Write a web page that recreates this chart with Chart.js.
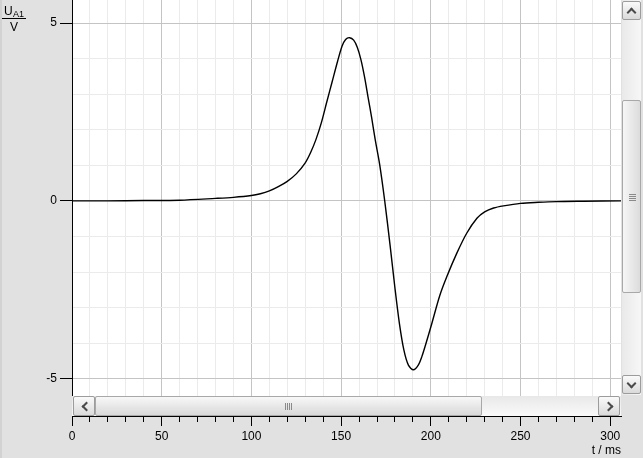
<!DOCTYPE html>
<html>
<head>
<meta charset="utf-8">
<script src="https://cdn.jsdelivr.net/npm/chart.js@4.4.1/dist/chart.umd.min.js"></script>
<style>
  html, body { margin: 0; padding: 0; background: #e1e1e1; }
  #wrap { position: relative; width: 643px; height: 458px; overflow: hidden;
          font-family: "Liberation Sans", Arial, sans-serif; color: #000; }
  #chart { position: absolute; left: 0; top: 0; }
  .abs { position: absolute; white-space: nowrap; }
  .track { position: absolute; box-sizing: border-box; }
  .btn { position: absolute; box-sizing: border-box; border: 1px solid #9c9c9c; border-radius: 2px;
         background: linear-gradient(#fafafa, #dadada); }
  .chev { position: absolute; width: 5px; height: 5px; border-left: 2px solid #4a4a4a; border-top: 2px solid #4a4a4a; }
  .thumb { position: absolute; box-sizing: border-box; border: 1px solid #a8a8a8; border-radius: 2px; }
  .grip { position: absolute; background: #8a8a8a; }
</style>
</head>
<body>
<div id="wrap">
  <canvas id="chart" width="643" height="458"></canvas>

  <!-- axis titles -->
  <span class="abs" style="left:4px; top:4.5px; font-size:12px; line-height:12px;">U</span>
  <span class="abs" style="left:13px; top:9.8px; font-size:9px; line-height:9px;">A1</span>
  <div class="abs" style="left:2px; top:18px; width:24px; height:1px; background:#000;"></div>
  <span class="abs" style="left:10px; top:20.5px; font-size:12px; line-height:12px;">V</span>
  <span class="abs" style="right:22px; top:443.5px; font-size:12px; line-height:12px;">t / ms</span>

  <!-- vertical scrollbar -->
  <div class="track" style="left:622px; top:0; width:19px; height:395px; background:linear-gradient(to right,#e9e9e9,#f7f7f7);"></div>
  <div class="btn" style="left:622px; top:1px; width:19px; height:19px;">
    <div class="chev" style="left:5px; top:7px; transform:rotate(45deg);"></div>
  </div>
  <div class="thumb" style="left:622px; top:100px; width:19px; height:193px; background:linear-gradient(to right,#f6f6f6,#dcdcdc);">
    <div class="grip" style="left:6px; top:93px; width:7px; height:1px;"></div>
    <div class="grip" style="left:6px; top:95px; width:7px; height:1px;"></div>
    <div class="grip" style="left:6px; top:97px; width:7px; height:1px;"></div>
    <div class="grip" style="left:6px; top:99px; width:7px; height:1px;"></div>
  </div>
  <div class="btn" style="left:622px; top:375px; width:19px; height:19px;">
    <div class="chev" style="left:5px; top:4px; transform:rotate(225deg);"></div>
  </div>

  <!-- horizontal scrollbar -->
  <div class="track" style="left:72px; top:396px; width:549px; height:20px; background:linear-gradient(#e8e8e8,#fafafa);"></div>
  <div class="btn" style="left:73px; top:396px; width:22px; height:20px;">
    <div class="chev" style="left:9px; top:6px; transform:rotate(-45deg);"></div>
  </div>
  <div class="thumb" style="left:95px; top:396px; width:387px; height:20px; background:linear-gradient(#f8f8f8,#d8d8d8);">
    <div class="grip" style="left:189px; top:6px; width:1px; height:7px;"></div>
    <div class="grip" style="left:191px; top:6px; width:1px; height:7px;"></div>
    <div class="grip" style="left:193px; top:6px; width:1px; height:7px;"></div>
    <div class="grip" style="left:195px; top:6px; width:1px; height:7px;"></div>
  </div>
  <div class="btn" style="left:598px; top:396px; width:22px; height:20px;">
    <div class="chev" style="left:6px; top:6px; transform:rotate(135deg);"></div>
  </div>
</div>

<script>
// time axis (ms) and voltage U_A1 (V)
const tValues = [0, 20, 40, 60, 80, 90, 100, 105, 110, 115, 120, 125, 130, 133, 136, 139, 142, 145, 148,
                 150.5, 152.5, 154.7, 157, 159, 161, 163, 165, 167, 169, 171.5, 174.3, 177.3, 180, 182.5,
                 185, 187.5, 190.3, 193, 195, 197, 200.6, 205, 209, 214.5, 220, 225.7, 230, 235, 240.5,
                 250, 260, 270, 285, 306];
const uValues = [0, 0, 0.01, 0.02, 0.07, 0.1, 0.15, 0.2, 0.28, 0.4, 0.55, 0.76, 1.07, 1.36, 1.73, 2.2, 2.78, 3.35, 3.92,
                 4.35, 4.54, 4.59, 4.52, 4.32, 3.98, 3.5, 2.92, 2.35, 1.72, 1.02, 0, -1.25, -2.45, -3.45,
                 -4.2, -4.62, -4.75, -4.62, -4.38, -4.06, -3.44, -2.66, -2.12, -1.47, -0.91, -0.49, -0.31, -0.2, -0.14,
                 -0.07, -0.04, -0.02, -0.01, 0];

const xMajorTicks = [0, 50, 100, 150, 200, 250, 300];
const yMajorTicks = [-5, 0, 5];

const MAJOR_GRID = '#c4c4c4';
const MINOR_GRID = '#ebebeb';
const TICK_FONT = { family: "'Liberation Sans', Arial, sans-serif", size: 12 };

const isMajorX = (c) => c.tick && xMajorTicks.includes(c.tick.value);
const isMajorY = (c) => c.tick && yMajorTicks.includes(c.tick.value);

// white plot area on the grey window
const plotBackground = {
    id: 'plotBackground',
    beforeDraw(chart) {
        const { ctx, chartArea } = chart;
        ctx.save();
        ctx.fillStyle = '#d2d2d2';
        ctx.fillRect(0, 0, 2, chart.height);
        ctx.fillStyle = '#ffffff';
        ctx.fillRect(chartArea.left, chartArea.top, chartArea.right - chartArea.left, chartArea.bottom - chartArea.top);
        ctx.restore();
    },
};

new Chart(document.getElementById('chart'), {
    type: 'line',
    data: {
        datasets: [{
            data: tValues.map((t, i) => ({ x: t, y: uValues[i] })),
            borderColor: '#000000',
            borderWidth: 1.4,
            pointRadius: 0,
            fill: false,
            tension: 0.3,
        }],
    },
    options: {
        responsive: false,
        animation: false,
        layout: { padding: { top: 0, left: 0, right: 22, bottom: 0 } },
        plugins: { legend: { display: false }, tooltip: { enabled: false } },
        scales: {
            x: {
                type: 'linear',
                min: 0,
                max: 306,
                afterFit: (s) => { s.height = 42; },
                border: { color: '#000000', width: 1 },
                grid: {
                    color: (c) => isMajorX(c) ? MAJOR_GRID : MINOR_GRID,
                    tickColor: '#000000',
                    tickLength: 10,
                    tickBorderDash: (c) => isMajorX(c) ? [] : [5, 20],
                },
                ticks: {
                    stepSize: 10,
                    includeBounds: false,
                    autoSkip: false,
                    maxRotation: 0,
                    padding: 3,
                    color: '#000000',
                    font: TICK_FONT,
                    callback: (v) => xMajorTicks.includes(v) ? String(v) : '',
                },
            },
            y: {
                type: 'linear',
                min: -6.05,
                max: 5.65,
                afterFit: (s) => { s.width = 72; s.paddingTop = 0; s.paddingBottom = 0; },
                border: { color: '#000000', width: 1 },
                grid: {
                    color: (c) => isMajorY(c) ? MAJOR_GRID : MINOR_GRID,
                    tickColor: (c) => isMajorY(c) ? '#000000' : 'rgba(0,0,0,0)',
                    tickLength: 12,
                },
                ticks: {
                    stepSize: 1,
                    includeBounds: false,
                    autoSkip: false,
                    padding: 3,
                    color: '#000000',
                    font: TICK_FONT,
                    callback: (v) => yMajorTicks.includes(v) ? String(v) : '',
                },
            },
        },
    },
    plugins: [plotBackground],
});
</script>
</body>
</html>
